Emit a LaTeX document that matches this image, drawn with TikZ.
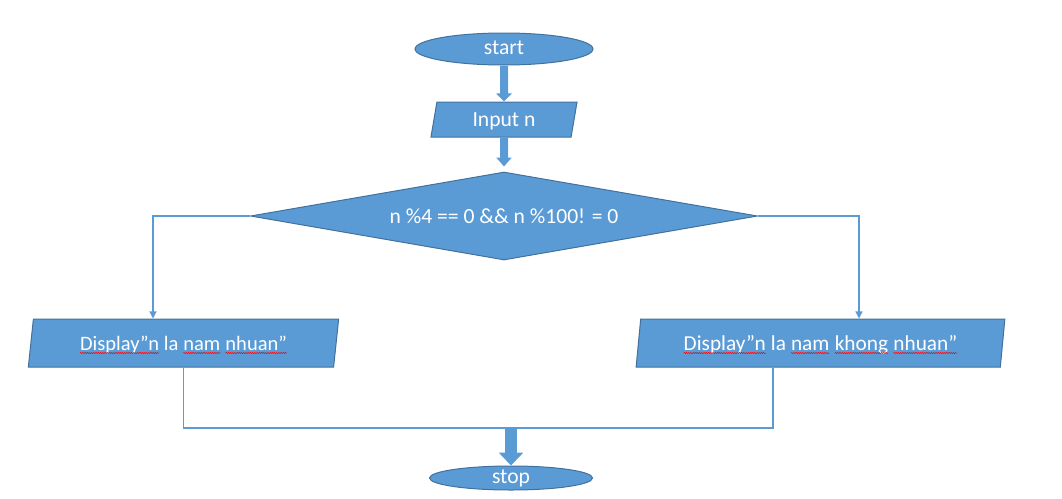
\documentclass[tikz,border=0pt]{standalone}
\usepackage{fontspec}
\setmainfont{Carlito}
\usetikzlibrary{shapes.geometric,arrows.meta,decorations.pathmorphing}

\definecolor{boxblue}{HTML}{5B9BD5}
\definecolor{boxedge}{HTML}{41719C}

% wavy red underline of the spell checker
\newcommand{\typo}[1]{\tikz[baseline=(w.base), x=1pt, y=1pt]{%
  \node[shape=rectangle, draw=none, fill=none, inner sep=0pt, outer sep=0pt,
        text height=, text depth=, minimum width=0pt, minimum height=0pt] (w) {#1};
  \draw[red, line width=0.5pt, decorate, decoration={snake, amplitude=0.6pt, segment length=2.2pt}]
    ([yshift=-3pt]w.base west) -- ([yshift=-3pt]w.base east);}}

\tikzset{
  terminal/.style={ellipse, fill=boxblue, draw=boxedge, line width=1pt, inner sep=0pt,
                   text=white, text height=11pt, text depth=0pt},
  io/.style={trapezium, trapezium stretches=true, fill=boxblue, draw=boxedge, line width=1pt,
             inner sep=0pt, text=white, text height=14pt, text depth=0pt},
  test/.style={diamond, shape aspect=5.76, fill=boxblue, draw=boxedge, line width=1pt,
               inner sep=0pt, text=white, text height=14pt, text depth=0pt},
  fat/.style={boxblue, line width=#1},
  link/.style={boxblue, line width=1.2pt, -{Triangle[width=7pt,length=7pt]}}
}

\begin{document}
\begin{tikzpicture}[x=1pt, y=-1pt, font=\fontsize{21.6}{26}\selectfont]

  % Bounding box of the scheme
  \useasboundingbox (0,0) rectangle (1062,498);

  %%%%%%%%%%%%%%%%%%%%%%%%%%%%%%%%% Blocs %%%%%%%%%%%%%%%%%%%%%%%%%%%%%%%%%%%%
  \draw (504,49) node[terminal, minimum width=178, minimum height=32] (start) {start} ;
  \draw (504,119.5) node[io, trapezium left angle=78.7, trapezium right angle=101.3,
                         minimum width=147, minimum height=35] (input) {Input n} ;
  \draw (504,216) node[test, minimum width=507, minimum height=88] (dec) {n \%4 == 0 \&\& n \%100! = 0} ;

  \draw (183.5,343) node[io, trapezium left angle=76, trapezium right angle=104,
                         minimum width=311, minimum height=48, font=\fontsize{20.5}{25}\selectfont] (leap)
        {\typo{Display”n} la \typo{nam} \typo{nhuan”}\hspace{8pt}} ;
  \draw (820.5,343) node[io, trapezium left angle=76, trapezium right angle=104,
                         minimum width=369, minimum height=48, font=\fontsize{21.3}{25}\selectfont] (noleap)
        {\typo{Display”n} la \typo{nam} \typo{khong} \typo{nhuan”}} ;

  \draw (511,478) node[terminal, minimum width=163, minimum height=24] (stop) {stop} ;

  %%%%%%%%%%%%%%%%%%%%%%%%%%%%%%%%% Points pour travailler %%%%%%%%%%%%%%%%%%%%%%%%%%%%%%%%%%%%
  \coordinate (lcol) at (153,0) ;
  \coordinate (rcol) at (859,0) ;
  \coordinate (bcol) at (773,0) ;
  \coordinate (merge) at (511,428) ;

  %%%%%%%%%%%%%%%%%%%%%%%%%%%%%%%%% Fleches %%%%%%%%%%%%%%%%%%%%%%%%%%%%%%%%%%%%
  \draw[fat=8pt, -{Triangle[width=15pt,length=8pt]}] (start) -- (input) ;
  \draw[fat=8pt, -{Triangle[width=15pt,length=9pt]}, shorten >=5pt] (input) -- (dec) ;

  \draw[link] (dec.west) -| (lcol |- leap.north) ;
  \draw[link] (dec.east) -| (rcol |- noleap.north) ;

  \draw[boxblue, line width=1.2pt] (leap.south) |- (merge) -| (bcol |- noleap.south) ;
  \draw[fat=12pt, -{Triangle[width=24pt,length=13pt]}] (merge) -- (stop) ;

\end{tikzpicture}
\end{document}
